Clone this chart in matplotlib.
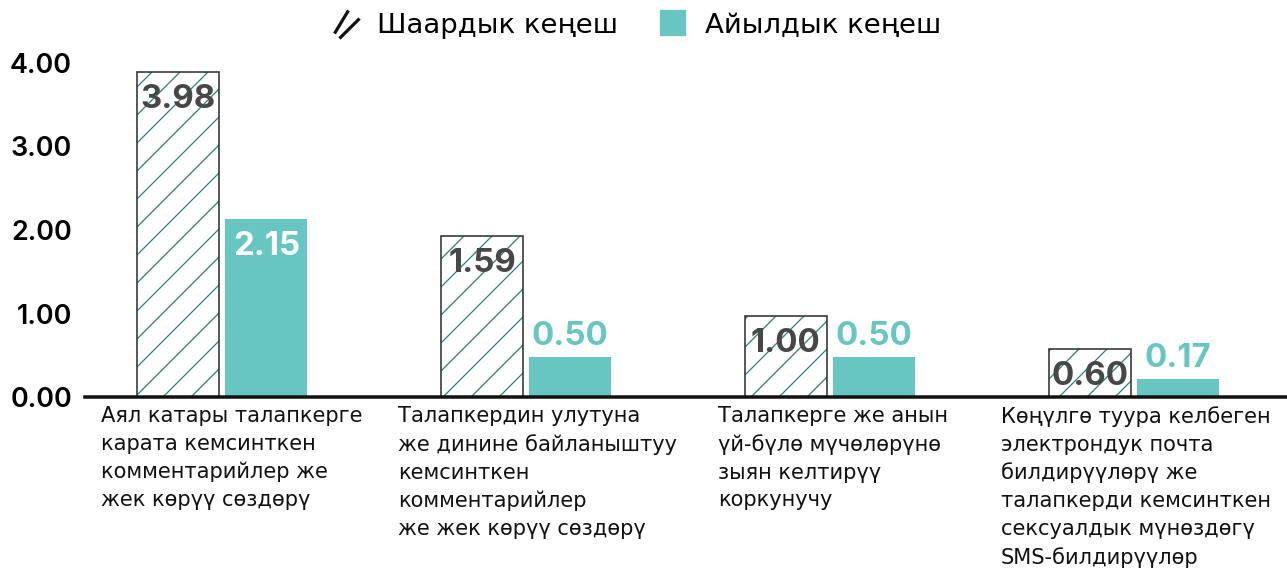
import matplotlib
matplotlib.use('Agg')
import numpy as np
import matplotlib.pyplot as plt
from matplotlib.lines import Line2D
from matplotlib.path import Path

plt.rcParams['font.family'] = ['DejaVu Sans']

DPI = 168
W, H = 1287, 569

def pt(px):
    return px * 72.0 / DPI

categories = [
    'Аял катары талапкерге\nкарата кемсинткен\nкомментарийлер же\nжек көрүү сөздөрү',
    'Талапкердин улутуна\nже динине байланыштуу\nкемсинткен\nкомментарийлер\nже жек көрүү сөздөрү',
    'Талапкерге же анын\nүй-бүлө мүчөлөрүнө\nзыян келтирүү\nкоркунучу',
    'Көңүлгө туура келбеген\nэлектрондук почта\nбилдирүүлөрү же\nталапкерди кемсинткен\nсексуалдык мүнөздөгү\nSMS-билдирүүлөр',
]
series_names = ['Шаардык кеңеш', 'Айылдык кеңеш']
city_heights = [3.89, 1.93, 0.97, 0.57]
village_heights = [2.13, 0.48, 0.48, 0.21]
city_labels = ['3.98', '1.59', '1.00', '0.60']
village_labels = ['2.15', '0.50', '0.50', '0.17']
yticks = [0, 1, 2, 3, 4]
ytick_labels = ['0.00', '1.00', '2.00', '3.00', '4.00']

TEAL = '#68c6c2'
HATCH = '#2f8583'
EDGE = '#333333'
DARK = '#474747'
NUM_FONT = ['Inter', 'DejaVu Sans']

# hatch spacing follows dpi: '//' gives dpi/6 px between lines
plt.rcParams['hatch.linewidth'] = pt(1.3)
plt.rcParams['hatch.color'] = HATCH

fig = plt.figure(figsize=(W / DPI, H / DPI), dpi=DPI)
ax = fig.add_axes([85 / W, 1 - 397 / H, 1 - 85 / W, (397 - 63) / H])

x = np.arange(len(categories))
bw = 0.27
off = 0.145

ax.bar(x - off, city_heights, bw, facecolor='white', edgecolor=HATCH,
       hatch='//', linewidth=0, zorder=2)
ax.bar(x - off, city_heights, bw, fill=False, edgecolor=EDGE,
       linewidth=pt(1.6), zorder=3)
ax.bar(x + off, village_heights, bw, color=TEAL, linewidth=0, zorder=2)

for xi, h, lab in zip(x, city_heights, city_labels):
    ax.text(xi - off, h - 0.33, lab, ha='center', va='center', family=NUM_FONT,
            fontsize=pt(33), fontweight='bold', color=DARK, zorder=4)
for xi, h, lab in zip(x, village_heights, village_labels):
    if h > 1:
        ax.text(xi + off, h - 0.33, lab, ha='center', va='center', family=NUM_FONT,
                fontsize=pt(33), fontweight='bold', color='white', zorder=4)
    else:
        ax.text(xi + off, h + 0.25, lab, ha='center', va='center', family=NUM_FONT,
                fontsize=pt(33), fontweight='bold', color=TEAL, zorder=4)

ax.set_xlim(-0.452, 3.505)
ax.set_ylim(0, 4)
ax.set_yticks(yticks)
ax.set_yticklabels(ytick_labels, fontsize=pt(27), fontweight='semibold', family=NUM_FONT)
ax.tick_params(axis='y', length=0, pad=pt(13))
ax.set_xticks([])
for s in ['left', 'right', 'top']:
    ax.spines[s].set_visible(False)
ax.spines['bottom'].set_linewidth(pt(3.5))
ax.spines['bottom'].set_color('#111111')
ax.spines['bottom'].set_zorder(5)

label_x = [101, 398, 718, 1001]
for lx, cat in zip(label_x, categories):
    fig.text(lx / W, 1 - 406 / H, cat, ha='left', va='top',
             fontsize=pt(21), color='#111111', linespacing=1.48)

slashes = Path([(-0.8, -0.67), (0.13, 0.87), (-0.47, -1.0), (0.87, 0.33)],
               [Path.MOVETO, Path.LINETO, Path.MOVETO, Path.LINETO])
handles = [Line2D([], [], linestyle='none', marker=slashes, markersize=pt(30),
                  markeredgecolor='#111111', markerfacecolor='none', markeredgewidth=pt(3.2)),
           Line2D([], [], linestyle='none', marker='s', markersize=pt(25),
                  markerfacecolor=TEAL, markeredgecolor=TEAL)]
fig.legend(handles, series_names, loc='center', bbox_to_anchor=(636 / W, 1 - 26 / H),
           ncol=2, frameon=False, fontsize=pt(27.5), handlelength=1.1,
           columnspacing=1.45, handletextpad=0.6)

fig.savefig('out.png', dpi=DPI, facecolor='white')
